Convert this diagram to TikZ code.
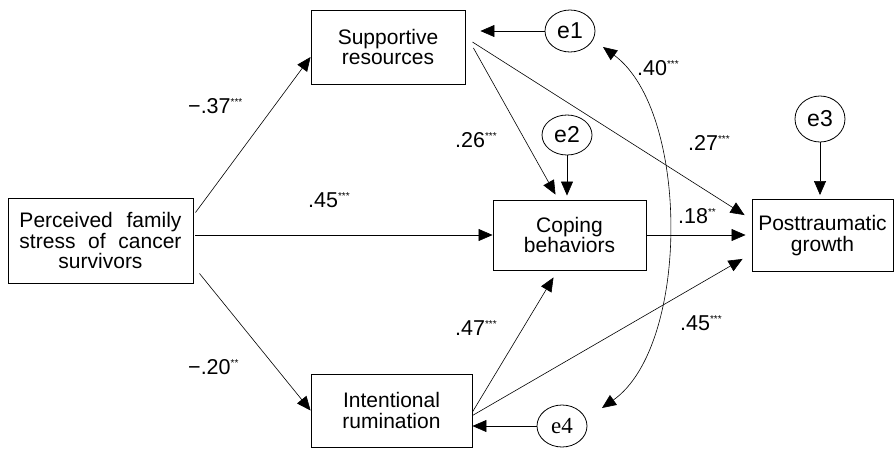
\documentclass[tikz,border=0pt]{standalone}
\usepackage{fontspec}
\setmainfont{Liberation Sans}
\newfontfamily\serifE{Liberation Serif}
\usetikzlibrary{arrows.meta,calc,shapes.geometric}
\newcommand\sigst[1]{\raisebox{8pt}{\fontsize{10}{10}\selectfont #1}}
\begin{document}
\begin{tikzpicture}[x=1pt,y=-1pt,
  box/.style={draw, line width=0.9pt, inner sep=0pt, align=center, font=\fontsize{21}{20.5}\selectfont},
  err/.style={draw, ellipse, line width=0.8pt, inner sep=0pt, minimum width=50pt, font=\fontsize{23}{23}\selectfont},
  arr/.style={-{Triangle[length=14pt,width=12pt]}, line width=0.6pt},
  dbl/.style={{Triangle[length=14pt,width=12pt]}-{Triangle[length=14pt,width=12pt]}, line width=0.6pt},
  lab/.style={anchor=base west, inner sep=0pt, font=\fontsize{21.5}{21.5}\selectfont}]
\useasboundingbox (0,0) rectangle (895,448);

% boxes
\node[box, minimum width=185pt, minimum height=85pt] (P) at (100.5,240.5)
  {\makebox[162pt][s]{Perceived family}\\ \makebox[162pt][s]{stress of cancer}\\ survivors};
\node[box, minimum width=154pt, minimum height=74pt] (S) at (388,47) {Supportive\\resources};
\node[box, minimum width=153pt, minimum height=70pt] (C) at (569.5,235) {Coping\\behaviors};
\node[box, minimum width=141pt, minimum height=72pt] (T) at (822.5,235.5) {Posttraumatic\\growth};
\node[box, minimum width=161pt, minimum height=73pt] (I) at (391.5,410.5) {Intentional\\rumination};

% error terms
\node[err, minimum height=42pt] (e1) at (570,31) {e1};
\node[err, minimum height=40pt] (e2) at (567,135) {e2};
\node[err, minimum height=46pt] (e3) at (820,119) {e3};
\node[err, minimum height=42pt] (e4) at (562,426) {\serifE e4};

% paths
\draw[arr] ($(P.north east)+(2,15)$) -- ($(S.west)+(0,10)$);
\draw[arr] ($(P.east |- C.west)+(2,0)$) -- (C.west);
\draw[arr] ($(P.south east)+(6,-10)$) -- (I.west);
\draw[arr] (e1.west) -- ($(e1.west -| S.east)+(15,0)$);
\draw[arr] ($(S.east)+(8,1)$) -- ($(C.north)+(-14,-5)$);
\draw[arr] (e2.south) -- ($(e2.south |- C.north)+(0,-4)$);
\draw[arr] ($(S.east)+(7,-5)$) -- ($(T.north west)+(-7,16)$);
\draw[arr] (C.east) -- ($(C.east -| T.west)+(-6,0)$);
\draw[arr] ($(I.east)+(0,1.5)$) -- ($(C.south)+(-16,7)$);
\draw[arr] ($(I.east)+(0,5)$) -- ($(T.south west)+(-9,-13)$);
\draw[arr] (e3.south) -- ($(e3.south |- T.north)+(0,-4)$);
\draw[arr] (e4.west) -- (e4.west -| I.east);
\draw[dbl] ($(e1.center)+(33,16)$) .. controls ($(e1.center)+(120,80)$) and ($(e4.center)+(128,-80)$) .. ($(e4.center)+(40,-18)$);

% labels
\node[lab] (l1) at (188,113) {−.37\sigst{***}};
\node[lab] (l2) at (308,207) {.45\sigst{***}};
\node[lab] (l3) at (455,147) {.26\sigst{***}};
\node[lab] (l4) at (637,75) {.40\sigst{***}};
\node[lab] (l5) at (688,150) {.27\sigst{***}};
\node[lab] (l6) at (678,223) {.18\sigst{**}};
\node[lab] (l7) at (455,335) {.47\sigst{***}};
\node[lab] (l8) at (680,330) {.45\sigst{***}};
\node[lab] (l9) at (188,374) {−.20\sigst{**}};
\end{tikzpicture}
\end{document}
